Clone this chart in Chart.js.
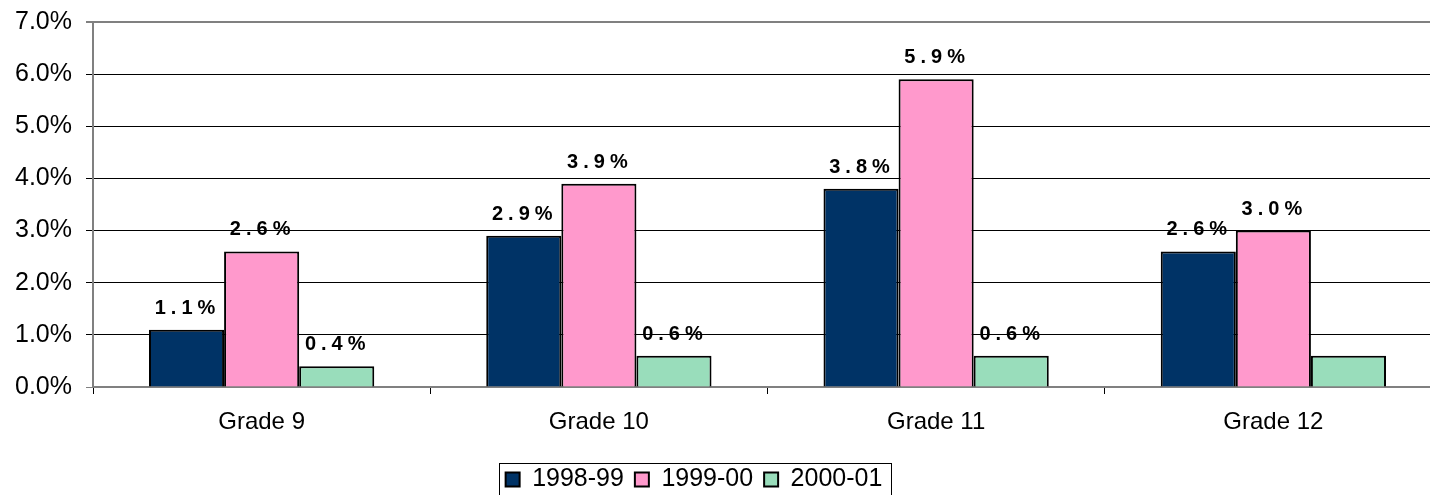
<!DOCTYPE html>
<html>
<head>
<meta charset="utf-8">
<script src="https://cdn.jsdelivr.net/npm/chart.js@4/dist/chart.umd.min.js"></script>
<style>
  html, body { margin: 0; padding: 0; background: #fff; overflow: hidden; }
  /* the original plot runs a little past the right edge of the picture */
  #wrap { width: 1442px; height: 495px; position: relative; }
</style>
</head>
<body>
<div id="wrap"><canvas id="grafico"></canvas></div>
<script>
const categorias = ["Grade 9", "Grade 10", "Grade 11", "Grade 12"];
const series = ["1998-99", "1999-00", "2000-01"];
const datos9899 = [1.1, 2.9, 3.8, 2.6];
const datos9900 = [2.6, 3.9, 5.9, 3.0];
const datos0001 = [0.4, 0.6, 0.6, 0.6];
// which bars carry a value label (the last green bar has none in the original)
const etiquetas9899 = [true, true, true, true];
const etiquetas9900 = [true, true, true, true];
const etiquetas0001 = [true, true, true, false];
const colores = ["#003366", "#FF99CC", "#99DDBB"];
const ticksY = [0, 1, 2, 3, 4, 5, 6, 7];

const fuente = "'Liberation Sans', Arial, sans-serif";

const etiquetasPlugin = {
  id: "etiquetas",
  afterDatasetsDraw(chart) {
    const ctx = chart.ctx;
    const mostrar = [etiquetas9899, etiquetas9900, etiquetas0001];
    ctx.save();
    ctx.font = "bold 20px " + fuente;
    ctx.fillStyle = "#000";
    ctx.textAlign = "center";
    ctx.textBaseline = "alphabetic";
    if ("letterSpacing" in ctx) ctx.letterSpacing = "5px";
    chart.data.datasets.forEach((ds, i) => {
      chart.getDatasetMeta(i).data.forEach((bar, j) => {
        if (!mostrar[i][j]) return;
        ctx.fillText(ds.data[j].toFixed(1) + "%", bar.x + 1, bar.y - 16);
      });
    });
    ctx.restore();
  }
};

// the legend sits a bit left of centre in the original, with a thin frame
const movLeyendaX = -27;
const movLeyendaY = 7;
const bordeLeyenda = {
  id: "bordeLeyenda",
  afterLayout(chart) {
    const l = chart.legend;
    l.left += movLeyendaX;
    l.right += movLeyendaX;
    l.top += movLeyendaY;
    l.bottom += movLeyendaY;
  },
  afterDraw(chart) {
    const cajas = chart.legend.legendHitBoxes;
    if (!cajas || !cajas.length) return;
    const izq = Math.min(...cajas.map(c => c.left)) - 7;
    const der = Math.max(...cajas.map(c => c.left + c.width)) + 8;
    const ctx = chart.ctx;
    ctx.save();
    ctx.strokeStyle = "#000";
    ctx.lineWidth = 1;
    ctx.strokeRect(Math.round(izq) + 0.5, 463.5, Math.round(der - izq), 60);
    ctx.restore();
  }
};

const config = {
  type: "bar",
  data: {
    labels: categorias,
    datasets: [
      { label: series[0], data: datos9899, backgroundColor: colores[0], borderColor: "#000", borderWidth: 2 },
      { label: series[1], data: datos9900, backgroundColor: colores[1], borderColor: "#000", borderWidth: 2 },
      { label: series[2], data: datos0001, backgroundColor: colores[2], borderColor: "#000", borderWidth: 2 }
    ]
  },
  options: {
    responsive: true,
    maintainAspectRatio: false,
    animation: false,
    layout: { padding: { top: 22, right: 0, left: 0, bottom: 0 } },
    datasets: { bar: { categoryPercentage: 0.668, barPercentage: 1.0, borderSkipped: "bottom" } },
    plugins: {
      legend: {
        position: "bottom",
        labels: {
          color: "#000",
          font: { family: fuente, size: 25 },
          boxWidth: 14,
          boxHeight: 14,
          padding: 11
        }
      },
      title: { display: false },
      tooltip: { enabled: false }
    },
    scales: {
      x: {
        offset: true,
        grid: { offset: true, drawOnChartArea: false, color: "#000", tickLength: 7 },
        border: { color: "#808080", width: 2 },
        ticks: { color: "#000", font: { family: fuente, size: 24 }, padding: 14 },
        afterFit(scale) { scale.height = 62; }
      },
      y: {
        min: 0,
        max: 7,
        afterBuildTicks(scale) { scale.ticks = ticksY.map(v => ({ value: v })); },
        grid: {
          color: ctx => (ctx.tick && (ctx.tick.value === 7 || ctx.tick.value === 0)) ? "#808080" : "#000",
          lineWidth: ctx => (ctx.tick && ctx.tick.value === 7) ? 2 : 1,
          tickLength: 7
        },
        border: { color: "#808080", width: 2 },
        ticks: {
          color: "#000",
          font: { family: fuente, size: 25 },
          padding: 14,
          callback: v => v.toFixed(1) + "%"
        },
        afterFit(scale) {
          scale.width = 93;
          scale.paddingTop = 0;
          scale.paddingBottom = 0;
        }
      }
    }
  },
  plugins: [etiquetasPlugin, bordeLeyenda]
};

const myChart = new Chart(document.getElementById("grafico"), config);
</script>
</body>
</html>
